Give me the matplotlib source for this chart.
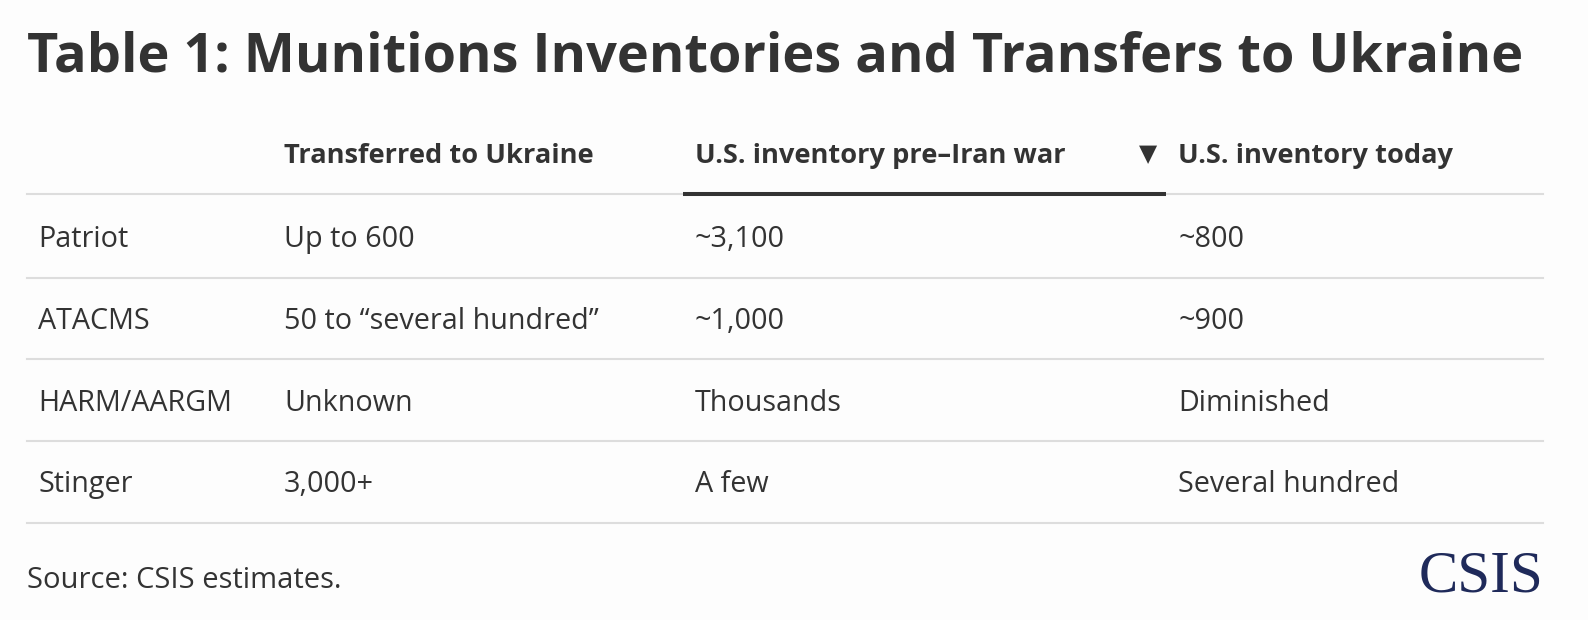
import matplotlib.pyplot as plt
from matplotlib.lines import Line2D

plt.rcParams['font.family'] = ['Open Sans', 'DejaVu Sans']

title = 'Table 1: Munitions Inventories and Transfers to Ukraine'
columns = ['Transferred to Ukraine', 'U.S. inventory pre\u2013Iran war', 'U.S. inventory today']
munitions = ['Patriot', 'ATACMS', 'HARM/AARGM', 'Stinger']
transferred = ['Up to 600', '50 to \u201cseveral hundred\u201d', 'Unknown', '3,000+']
pre_war = ['~3,100', '~1,000', 'Thousands', 'A few']
today = ['~800', '~900', 'Diminished', 'Several hundred']
source = 'Source: CSIS estimates.'

W, H = 1588, 620
txt = '#333333'
grid = '#dddddd'

fig = plt.figure(figsize=(W / 100, H / 100), dpi=100)
fig.patch.set_facecolor('#fdfdfd')
ax = fig.add_axes([0, 0, 1, 1])
ax.set_xlim(0, W)
ax.set_ylim(H, 0)
ax.axis('off')

# title
ax.text(27, 72, title, fontsize=39, fontweight='bold', color=txt, va='baseline', ha='left')

# header
col_x = [284, 695, 1178]
for x, c in zip(col_x, columns):
    ax.text(x, 163, c, fontsize=19.6, fontweight='bold', color=txt, va='baseline', ha='left')
ax.text(1148, 161, '\u25bc', fontsize=17, color=txt, va='baseline', ha='center',
        family=['DejaVu Sans'])

ax.add_line(Line2D([27, 1543], [194, 194], color=grid, lw=1.5))
ax.add_line(Line2D([683, 1166], [194, 194], color=txt, lw=2.9, solid_capstyle='butt'))

# body rows
row_y = [247, 329, 411, 492]
line_y = [278, 359, 441, 523]
for i in range(len(munitions)):
    y = row_y[i]
    ax.text(38, y, munitions[i], fontsize=20.7, color=txt, va='baseline', ha='left')
    ax.text(col_x[0], y, transferred[i], fontsize=20.7, color=txt, va='baseline', ha='left')
    ax.text(col_x[1], y, pre_war[i], fontsize=20.7, color=txt, va='baseline', ha='left')
    ax.text(col_x[2], y, today[i], fontsize=20.7, color=txt, va='baseline', ha='left')
    ax.add_line(Line2D([27, 1543], [line_y[i], line_y[i]], color=grid, lw=1.5))

# footer
ax.text(27, 588, source, fontsize=21, color=txt, va='baseline', ha='left')
ax.text(1543, 592, 'CSIS', fontsize=42.5, color='#1f2a5a', va='baseline', ha='right',
        family=['Liberation Serif'])

fig.savefig('out.png', dpi=100, facecolor=fig.get_facecolor())
